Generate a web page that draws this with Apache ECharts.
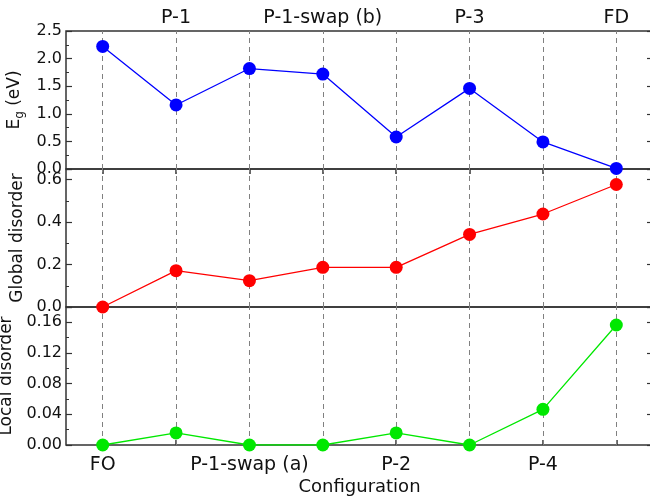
<!DOCTYPE html>
<html lang="en">
<head>
    <meta charset="utf-8">
    <title>Configuration disorder</title>
    <script src="https://cdn.jsdelivr.net/npm/echarts@6/dist/echarts.min.js"></script>
    <style>
        html, body, #chart { width: 100%; height: 100%; margin: 0; padding: 0; overflow: hidden; background: #ffffff; }
    </style>
</head>
<body>
<div id="chart"></div>
<script type="text/javascript">
    // data
    var categories = ['FO', 'P-1', 'P-1-swap (a)', 'P-1-swap (b)', 'P-2', 'P-3', 'P-4', 'FD'];
    var bandGap = [2.22, 1.16, 1.82, 1.72, 0.58, 1.46, 0.49, 0.01];
    var globalDisorder = [0.0, 0.171, 0.124, 0.187, 0.187, 0.342, 0.438, 0.577];
    var localDisorder = [0.0, 0.0157, 0.0, 0.0, 0.0157, 0.0, 0.0465, 0.1565];

    var font = 'DejaVu Sans';
    var ink = '#111111';
    var frame = '#333333';

    // one panel per quantity
    var panels = [
        { top: 31,  max: 2.5,  step: 0.5,  digits: 1, values: bandGap,        color: '#0000ff', name: '{a|E}{b|g}{a| (eV)}' },
        { top: 169, max: 0.65, step: 0.2,  digits: 1, values: globalDisorder, color: '#ff0000', name: 'Global disorder' },
        { top: 307, max: 0.18, step: 0.04, digits: 2, values: localDisorder,  color: '#00e800', name: 'Local disorder' }
    ];

    var grid = [], xAxis = [], yAxis = [], series = [];

    panels.forEach(function (p, i) {
        grid.push({
            left: 66, width: 587, top: p.top, height: 138,
            outerBoundsMode: 'none',
            containLabel: false,
            show: true, borderColor: frame, borderWidth: 1.5, backgroundColor: 'transparent'
        });

        xAxis.push({
            type: 'category',
            gridIndex: i,
            data: categories,
            position: i === 0 ? 'top' : 'bottom',
            axisLine: { show: false },
            axisTick: { show: i !== 1, inside: true, alignWithLabel: true, interval: 0, length: 5,
                        lineStyle: { color: frame, width: 1.5 } },
            axisLabel: {
                show: i !== 1,
                interval: function (idx) { return i === 0 ? idx % 2 === 1 : idx % 2 === 0; },
                fontFamily: font, fontSize: 19, color: ink,
                margin: i === 0 ? 3 : 11
            },
            splitLine: { show: false },
            name: i === 2 ? 'Configuration' : '',
            nameLocation: 'middle',
            nameGap: 33,
            nameTextStyle: { fontFamily: font, fontSize: 18, color: ink }
        });

        var tickCfg = { show: true, inside: true, length: 6, lineStyle: { color: frame, width: 1.2 } };
        var minorCfg = { show: true, splitNumber: 2, length: 3, lineStyle: { color: frame, width: 1 } };

        yAxis.push({
            type: 'value', gridIndex: i, position: 'left',
            min: 0, max: p.max, interval: p.step,
            axisLine: { show: false },
            axisTick: tickCfg,
            minorTick: minorCfg,
            splitLine: { show: false },
            axisLabel: {
                fontFamily: font, fontSize: 16, color: ink, margin: 4,
                showMaxLabel: i === 0,
                formatter: (function (d) { return function (v) { return v.toFixed(d); }; })(p.digits)
            },
            name: p.name,
            nameLocation: 'middle',
            nameGap: 38,
            nameTextStyle: {
                fontFamily: font, fontSize: 17, color: ink,
                rich: {
                    a: { fontFamily: font, fontSize: 17, color: ink, lineHeight: 22 },
                    b: { fontFamily: font, fontSize: 12, color: ink, lineHeight: 12, verticalAlign: 'bottom' }
                }
            }
        });
        yAxis.push({
            type: 'value', gridIndex: i, position: 'right',
            min: 0, max: p.max, interval: p.step,
            axisLine: { show: false },
            axisTick: tickCfg,
            minorTick: minorCfg,
            splitLine: { show: false },
            axisLabel: { show: false }
        });

        series.push({
            type: 'line',
            xAxisIndex: i,
            yAxisIndex: i * 2,
            data: p.values,
            symbol: 'circle',
            symbolSize: 13,
            z: 3,
            itemStyle: { color: p.color },
            lineStyle: { color: p.color, width: 1.3 },
            markLine: {
                silent: true,
                z: 1,
                symbol: 'none',
                label: { show: false },
                lineStyle: { color: '#808080', width: 1, type: [5, 4] },
                data: categories.map(function (c, k) { return { xAxis: k }; })
            }
        });
    });

    var chart = echarts.init(document.getElementById('chart'));
    chart.setOption({
        animation: false,
        backgroundColor: '#ffffff',
        grid: grid,
        xAxis: xAxis,
        yAxis: yAxis,
        series: series
    });
</script>
</body>
</html>
